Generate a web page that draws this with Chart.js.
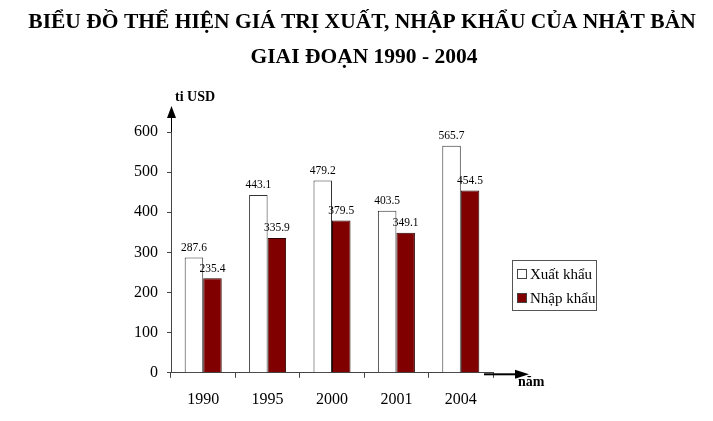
<!DOCTYPE html>
<html>
<head>
<meta charset="utf-8">
<script src="https://cdn.jsdelivr.net/npm/chart.js@4.4.1/dist/chart.umd.min.js"></script>
<style>
  html, body { margin: 0; padding: 0; background: #fff; }
  #wrap { width: 713px; height: 421px; }
</style>
</head>
<body>
<div id="wrap"><canvas id="myChart" width="713" height="421"></canvas></div>
<script>
// data
var years = ["1990", "1995", "2000", "2001", "2004"];
var exportValues = [287.6, 443.1, 479.2, 403.5, 565.7];
var importValues = [235.4, 335.9, 379.5, 349.1, 454.5];
var seriesNames = ["Xuất khẩu", "Nhập khẩu"];
var yTicks = [0, 100, 200, 300, 400, 500, 600];
var titleLines = ["BIỂU ĐỒ THỂ HIỆN GIÁ TRỊ XUẤT, NHẬP KHẨU CỦA NHẬT BẢN", "GIAI ĐOẠN 1990 - 2004"];

var serif = "'Liberation Serif', 'Times New Roman', serif";

// title, labels, arrows, legend drawn on top of the chart
var extras = {
    id: 'extras',
    afterDatasetsDraw: function(chart){
        var ctx = chart.ctx;

        // value labels over each bar
        ctx.save();
        ctx.font = "11.5px " + serif;
        ctx.fillStyle = "#000";
        ctx.textAlign = "center";
        ctx.textBaseline = "bottom";
        chart.data.datasets.forEach(function(ds, i){
            var meta = chart.getDatasetMeta(i);
            meta.data.forEach(function(bar, j){
                ctx.fillText(ds.data[j].toFixed(1), bar.x, bar.y - 4);
            });
        });
        ctx.restore();
    },
    afterDraw: function(chart){
        var ctx = chart.ctx;
        var area = chart.chartArea;
        ctx.save();
        ctx.strokeStyle = "#000";
        ctx.fillStyle = "#000";

        // title
        ctx.font = "bold 21.5px " + serif;
        ctx.textAlign = "center";
        ctx.textBaseline = "alphabetic";
        ctx.fillText(titleLines[0], 362, 28);
        ctx.fillText(titleLines[1], 364, 63);

        // y axis arrow
        ctx.lineWidth = 1;
        ctx.beginPath();
        ctx.moveTo(area.left + 0.5, area.top);
        ctx.lineTo(area.left + 0.5, 116);
        ctx.stroke();
        ctx.beginPath();
        ctx.moveTo(area.left + 0.5, 106);
        ctx.lineTo(area.left - 4, 118);
        ctx.lineTo(area.left + 5, 118);
        ctx.closePath();
        ctx.fill();

        // x axis arrow
        ctx.lineWidth = 2;
        ctx.beginPath();
        ctx.moveTo(area.right - 9, area.bottom + 1.5);
        ctx.lineTo(516, area.bottom + 1.5);
        ctx.stroke();
        ctx.beginPath();
        ctx.moveTo(529, area.bottom + 1.5);
        ctx.lineTo(515, area.bottom - 3);
        ctx.lineTo(515, area.bottom + 6);
        ctx.closePath();
        ctx.fill();

        // axis names
        ctx.font = "bold 14px " + serif;
        ctx.textBaseline = "middle";
        ctx.textAlign = "left";
        ctx.fillText("ti USD", area.left + 4, 97);
        ctx.fillText("năm", 518, 382);

        // legend box
        var lx = 512, ly = 260, lw = 84, lh = 50;
        ctx.lineWidth = 1;
        ctx.strokeStyle = "#555";
        ctx.strokeRect(lx + 0.5, ly + 0.5, lw, lh);
        ctx.font = "15px " + serif;
        chart.data.datasets.forEach(function(ds, i){
            var cy = ly + 14 + i * 24;
            ctx.fillStyle = ds.backgroundColor;
            ctx.fillRect(lx + 5, cy - 5, 10, 10);
            ctx.strokeStyle = "#444";
            ctx.strokeRect(lx + 5.5, cy - 4.5, 9, 9);
            ctx.fillStyle = "#000";
            ctx.fillText(ds.label, lx + 18, cy + 1);
        });
        ctx.restore();
    }
};

var barChart = new Chart('myChart', {
    type: 'bar',
    data: {
        labels: years,
        datasets: [{
            label: seriesNames[0],
            data: exportValues,
            backgroundColor: '#ffffff',
            borderColor: '#333333',
            borderWidth: 1,
            borderSkipped: 'bottom'
        }, {
            label: seriesNames[1],
            data: importValues,
            backgroundColor: '#800000',
            borderColor: '#2a0000',
            borderWidth: 1,
            borderSkipped: 'bottom'
        }]
    },
    plugins: [extras],
    options: {
        responsive: false,
        animation: false,
        categoryPercentage: 0.575,
        barPercentage: 1,
        layout: {
            padding: { left: 125, right: 220, top: 132, bottom: 0 }
        },
        plugins: {
            legend: { display: false },
            tooltip: { enabled: false },
            title: { display: false }
        },
        scales: {
            x: {
                grid: { drawOnChartArea: false, tickLength: 5, color: '#444' },
                border: { color: '#444', width: 1 },
                ticks: { color: '#000', font: { family: serif, size: 16 }, padding: 12 }
            },
            y: {
                min: 0,
                max: 600,
                afterBuildTicks: function(axis){
                    axis.ticks = yTicks.map(function(v){ return { value: v }; });
                },
                grid: { drawOnChartArea: false, tickLength: 4, color: '#444' },
                border: { color: '#444', width: 1 },
                ticks: { color: '#000', font: { family: serif, size: 16 }, padding: 9 }
            }
        }
    }
});
</script>
</body>
</html>
